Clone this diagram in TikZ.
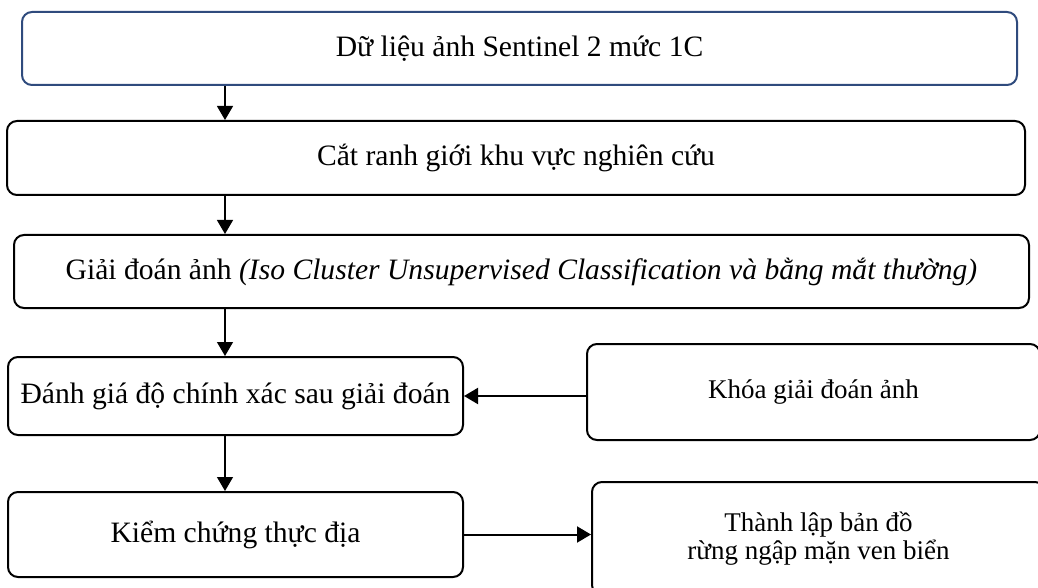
\documentclass[tikz,border=0pt]{standalone}
\usepackage{fontspec}
\setmainfont{Liberation Serif}
\definecolor{framecolor}{RGB}{47,75,125}
\usetikzlibrary{arrows.meta, positioning}

\begin{document}
\begin{tikzpicture}[x=0.5pt, y=-0.5pt, font=\fontsize{14.8}{18}\selectfont,
    stage/.style={draw, line width=1pt, rounded corners=5pt, align=center, inner sep=0pt},
    side/.style={stage, font=\fontsize{13.5}{14}\selectfont, minimum width=226.5pt},
    flow/.style={-{Triangle[length=7pt, width=8pt]}, line width=0.6pt},
    feed/.style={-{Triangle[length=7pt, width=8pt]}, line width=1pt}]
    \useasboundingbox (0,0) rectangle (1038,588);
    % main column
    \node[stage, draw=framecolor, minimum width=497.5pt, minimum height=36.5pt] (data) at (519.5,48.5) {Dữ liệu ảnh Sentinel 2 mức 1C};
    \node[stage, minimum width=509pt, minimum height=37pt] (cut) at (516,158) {Cắt ranh giới khu vực nghiên cứu};
    \node[stage, minimum width=507.5pt, minimum height=36.5pt] (interp) at (521.5,271.5) {Giải đoán ảnh \textit{(Iso Cluster Unsupervised Classification và bằng mắt thường)}};
    \node[stage, minimum width=227.5pt, minimum height=39pt] (eval) at (235.5,396) {Đánh giá độ chính xác sau giải đoán};
    \node[stage, minimum width=227.5pt, minimum height=42.5pt] (check) at (235.5,534.5) {Kiểm chứng thực địa};
    % right column
    \node[side, minimum height=48pt] (key) at (813.5,392) {Khóa giải đoán ảnh};
    \node[side, minimum height=56.5pt] (map) at (818.5,538.5) {Thành lập bản đồ\\rừng ngập mặn ven biển};
    % connectors
    \coordinate (spine) at (225,0);
    \draw[flow] (data.south -| spine) -- (cut.north -| spine);
    \draw[flow] (cut.south -| spine) -- (interp.north -| spine);
    \draw[flow] (interp.south -| spine) -- (eval.north -| spine);
    \draw[flow] (eval.south -| spine) -- (check.north -| spine);
    \draw[feed] (key.west |- eval.east) -- (eval.east);
    \draw[feed] (check.east) -- (check.east -| map.west);
\end{tikzpicture}
\end{document}
